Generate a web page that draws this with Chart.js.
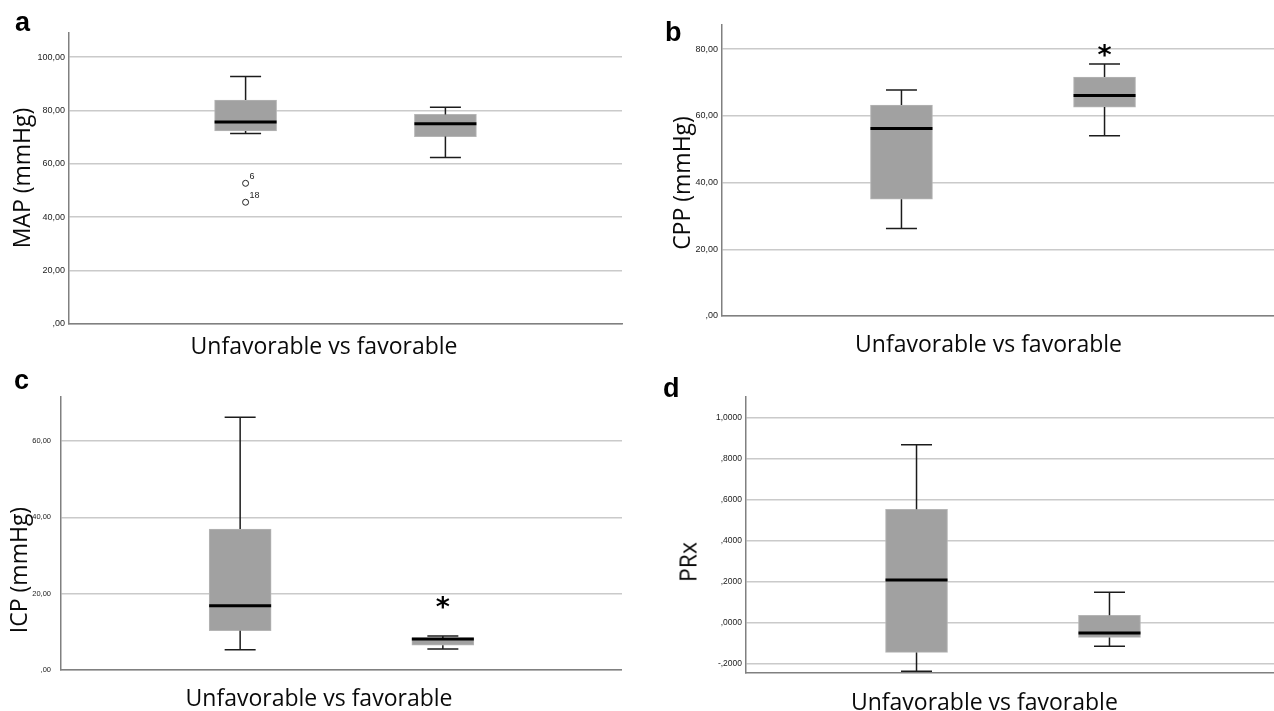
<!DOCTYPE html>
<html>
<head>
<meta charset="utf-8">
<script src="https://cdn.jsdelivr.net/npm/chart.js"></script>
<style>
html,body{margin:0;padding:0;background:#fff;overflow:hidden;width:1274px;height:711px;}
#wrap{position:relative;width:1274px;height:711px;overflow:hidden;background:#fff;}
canvas{position:absolute;}
.letter{position:absolute;font-family:'Liberation Sans',Arial,sans-serif;font-weight:bold;font-size:27px;line-height:27px;color:#000;}
.xt{position:absolute;font-family:'Open Sans',sans-serif;font-size:23px;line-height:23px;color:#0a0a0a;white-space:nowrap;transform:translateX(-50%);}
.yt{position:absolute;font-family:'Open Sans',sans-serif;font-size:23px;line-height:23px;color:#0a0a0a;white-space:nowrap;transform:translate(-50%,-50%) rotate(-90deg);}
</style>
</head>
<body>
<div id="wrap"></div>
<script>
// ---------- DATA ----------
const categories = ['Unfavorable', 'Favorable'];
const xTitle = 'Unfavorable vs favorable';

// a: MAP
const mapMin    = [71.4, 62.4];
const mapQ1     = [72.3, 70.2];
const mapMedian = [75.7, 75.0];
const mapQ3     = [83.9, 78.5];
const mapMax    = [92.7, 81.2];
const mapOutliers = [52.7, 45.6];
const mapOutlierGroup = [0, 0];
const mapOutlierIds = ['6', '18'];
const mapExtremes = [];
const mapExtremeGroup = [];
const mapRange = [0, 109];
const mapTicks = [0, 20, 40, 60, 80, 100];
const mapTickLabels = [',00', '20,00', '40,00', '60,00', '80,00', '100,00'];

// b: CPP
const cppMin    = [26.2, 54.0];
const cppQ1     = [35.0, 62.6];
const cppMedian = [56.2, 66.1];
const cppQ3     = [63.2, 71.6];
const cppMax    = [67.7, 75.5];
const cppOutliers = [];
const cppOutlierGroup = [];
const cppOutlierIds = [];
const cppExtremes = [79.5];
const cppExtremeGroup = [1];
const cppRange = [0, 87.2];
const cppTicks = [0, 20, 40, 60, 80];
const cppTickLabels = [',00', '20,00', '40,00', '60,00', '80,00'];

// c: ICP
const icpMin    = [5.3, 5.5];
const icpQ1     = [10.3, 6.5];
const icpMedian = [16.8, 8.1];
const icpQ3     = [36.9, 8.4];
const icpMax    = [66.2, 8.9];
const icpOutliers = [];
const icpOutlierGroup = [];
const icpOutlierIds = [];
const icpExtremes = [17.6];
const icpExtremeGroup = [1];
const icpRange = [0, 71.5];
const icpTicks = [0, 20, 40, 60];
const icpTickLabels = [',00', '20,00', '40,00', '60,00'];

// d: PRx
const prxMin    = [-0.237, -0.115];
const prxQ1     = [-0.145, -0.072];
const prxMedian = [0.208, -0.050];
const prxQ3     = [0.553, 0.036];
const prxMax    = [0.868, 0.148];
const prxOutliers = [];
const prxOutlierGroup = [];
const prxOutlierIds = [];
const prxExtremes = [];
const prxExtremeGroup = [];
const prxRange = [-0.2455, 1.1008];
const prxTicks = [-0.2, 0, 0.2, 0.4, 0.6, 0.8, 1.0];
const prxTickLabels = ['-,2000', ',0000', ',2000', ',4000', ',6000', ',8000', '1,0000'];

// ---------- PANELS (layout kept separate) ----------
const PAD_TOP = 16, PAD_BOTTOM = 16, X_H = 2;
const panels = [
  {letter:'a', yTitle:'MAP (mmHg)', min:mapMin, q1:mapQ1, med:mapMedian, q3:mapQ3, max:mapMax,
   outliers:mapOutliers, outlierGroup:mapOutlierGroup, outlierIds:mapOutlierIds, extremes:mapExtremes, extremeGroup:mapExtremeGroup,
   range:mapRange, ticks:mapTicks, tickLabels:mapTickLabels, tickSize:9, tickPad:4,
   area:{l:69, r:627, t:33, b:324}, letterPos:[15,9], xtPos:[324,333.6], ytPos:[20.5,178]},
  {letter:'b', yTitle:'CPP (mmHg)', min:cppMin, q1:cppQ1, med:cppMedian, q3:cppQ3, max:cppMax,
   outliers:cppOutliers, outlierGroup:cppOutlierGroup, outlierIds:cppOutlierIds, extremes:cppExtremes, extremeGroup:cppExtremeGroup,
   range:cppRange, ticks:cppTicks, tickLabels:cppTickLabels, tickSize:9, tickPad:4,
   area:{l:722, r:1284, t:25, b:316}, letterPos:[665,19], xtPos:[988.5,331.6], ytPos:[680.5,182.5]},
  {letter:'c', yTitle:'ICP (mmHg)', min:icpMin, q1:icpQ1, med:icpMedian, q3:icpQ3, max:icpMax,
   outliers:icpOutliers, outlierGroup:icpOutlierGroup, outlierIds:icpOutlierIds, extremes:icpExtremes, extremeGroup:icpExtremeGroup,
   range:icpRange, ticks:icpTicks, tickLabels:icpTickLabels, tickSize:7.5, tickPad:10,
   area:{l:61, r:622, t:397, b:670}, letterPos:[14,367], xtPos:[319,686.3], ytPos:[18,570]},
  {letter:'d', yTitle:'PRx', min:prxMin, q1:prxQ1, med:prxMedian, q3:prxQ3, max:prxMax,
   outliers:prxOutliers, outlierGroup:prxOutlierGroup, outlierIds:prxOutlierIds, extremes:prxExtremes, extremeGroup:prxExtremeGroup,
   range:prxRange, ticks:prxTicks, tickLabels:prxTickLabels, tickSize:8.5, tickPad:4,
   area:{l:746, r:1280, t:397, b:673}, letterPos:[663,375], xtPos:[984.4,689.6], ytPos:[688,561.7]}
];

// ---------- PLUGIN: whiskers, medians, outlier labels, extreme asterisks ----------
const boxWhiskers = {
  id: 'boxWhiskers',
  afterDatasetsDraw(chart) {
    const st = chart.data.datasets[0].stats;
    const meta = chart.getDatasetMeta(0);
    const y = chart.scales.y;
    const ctx = chart.ctx;
    ctx.save();
    meta.data.forEach((bar, i) => {
      const x = bar.x, w = bar.width, cap = w / 2;
      const pMin = y.getPixelForValue(st.min[i]);
      const pQ1 = y.getPixelForValue(st.q1[i]);
      const pQ3 = y.getPixelForValue(st.q3[i]);
      const pMax = y.getPixelForValue(st.max[i]);
      const pMed = y.getPixelForValue(st.med[i]);
      ctx.strokeStyle = '#1c1c1c';
      ctx.lineWidth = 1.5;
      ctx.beginPath();
      ctx.moveTo(x, pQ3); ctx.lineTo(x, pMax);
      ctx.moveTo(x - cap / 2, pMax); ctx.lineTo(x + cap / 2, pMax);
      ctx.moveTo(x, pQ1); ctx.lineTo(x, pMin);
      ctx.moveTo(x - cap / 2, pMin); ctx.lineTo(x + cap / 2, pMin);
      ctx.stroke();
      ctx.strokeStyle = '#000';
      ctx.lineWidth = 3;
      ctx.beginPath();
      ctx.moveTo(x - w / 2, pMed); ctx.lineTo(x + w / 2, pMed);
      ctx.stroke();
    });
    const om = chart.getDatasetMeta(1);
    ctx.font = '9px "Liberation Sans", Arial, sans-serif';
    ctx.fillStyle = '#222';
    ctx.textAlign = 'left';
    ctx.textBaseline = 'middle';
    om.data.forEach((pt, k) => { ctx.fillText(st.outlierIds[k], pt.x + 4, pt.y - 7); });
    const em = chart.getDatasetMeta(2);
    ctx.font = 'bold 27px "DejaVu Sans", sans-serif';
    ctx.fillStyle = '#000';
    ctx.textAlign = 'center';
    ctx.textBaseline = 'alphabetic';
    const m = ctx.measureText('*');
    const off = (m.actualBoundingBoxAscent - m.actualBoundingBoxDescent) / 2;
    em.data.forEach(pt => { ctx.fillText('*', pt.x, pt.y + off); });
    ctx.restore();
  }
};

const wrap = document.getElementById('wrap');
const Y_W = 60;

function makePanel(p) {
  const bx = p.area.l - Y_W, by = p.area.t - PAD_TOP;
  const bw = p.area.r - bx, bh = p.area.b + X_H + PAD_BOTTOM - by;
  const cv = document.createElement('canvas');
  cv.width = bw; cv.height = bh;
  cv.style.left = bx + 'px'; cv.style.top = by + 'px';
  cv.style.width = bw + 'px'; cv.style.height = bh + 'px';
  wrap.appendChild(cv);

  const datasets = [
    {
      type: 'bar',
      data: categories.map((c, i) => ({x: i + 1, y: [p.q1[i], p.q3[i]]})),
      stats: {min: p.min, q1: p.q1, med: p.med, q3: p.q3, max: p.max, outlierIds: p.outlierIds},
      backgroundColor: '#a1a1a1', borderColor: '#b5b5b5', borderWidth: 1, borderSkipped: false,
      barThickness: 62, order: 3
    },
    {
      type: 'scatter',
      data: p.outliers.map((v, k) => ({x: p.outlierGroup[k] + 1, y: v})),
      pointRadius: 3, pointBackgroundColor: '#fff', pointBorderColor: '#222', pointBorderWidth: 1, order: 1
    },
    {
      type: 'scatter',
      data: p.extremes.map((v, k) => ({x: p.extremeGroup[k] + 1, y: v})),
      pointRadius: 0, order: 2
    }
  ];

  new Chart(cv, {
    type: 'bar',
    data: {datasets},
    options: {
      responsive: false, animation: false, events: [],
      layout: {padding: {top: PAD_TOP, bottom: PAD_BOTTOM, left: 0, right: 0}},
      plugins: {legend: {display: false}, tooltip: {enabled: false}},
      scales: {
        x: {
          type: 'linear', min: 0.393, max: 2.607,
          ticks: {display: false}, grid: {display: false, drawTicks: false},
          border: {display: true, color: '#808080', width: 1.5},
          afterFit(s) { s.height = X_H; }
        },
        y: {
          type: 'linear', min: p.range[0], max: p.range[1],
          afterBuildTicks(s) { s.ticks = p.ticks.map(v => ({value: v})); },
          ticks: {
            callback: (v, i) => p.tickLabels[i],
            font: {family: '"Liberation Sans", Arial, sans-serif', size: p.tickSize},
            color: '#222', padding: p.tickPad
          },
          grid: {color: '#cacaca', lineWidth: 1.5, drawTicks: false},
          border: {display: true, color: '#808080', width: 1.5},
          afterFit(s) { s.width = Y_W; }
        }
      }
    },
    plugins: [boxWhiskers]
  });

  const L = document.createElement('div');
  L.className = 'letter'; L.textContent = p.letter;
  L.style.left = p.letterPos[0] + 'px'; L.style.top = p.letterPos[1] + 'px';
  wrap.appendChild(L);

  const X = document.createElement('div');
  X.className = 'xt'; X.textContent = xTitle;
  X.style.left = p.xtPos[0] + 'px'; X.style.top = p.xtPos[1] + 'px';
  wrap.appendChild(X);

  const Y = document.createElement('div');
  Y.className = 'yt'; Y.textContent = p.yTitle;
  Y.style.left = p.ytPos[0] + 'px'; Y.style.top = p.ytPos[1] + 'px';
  wrap.appendChild(Y);
}

panels.forEach(makePanel);
</script>
</body>
</html>
